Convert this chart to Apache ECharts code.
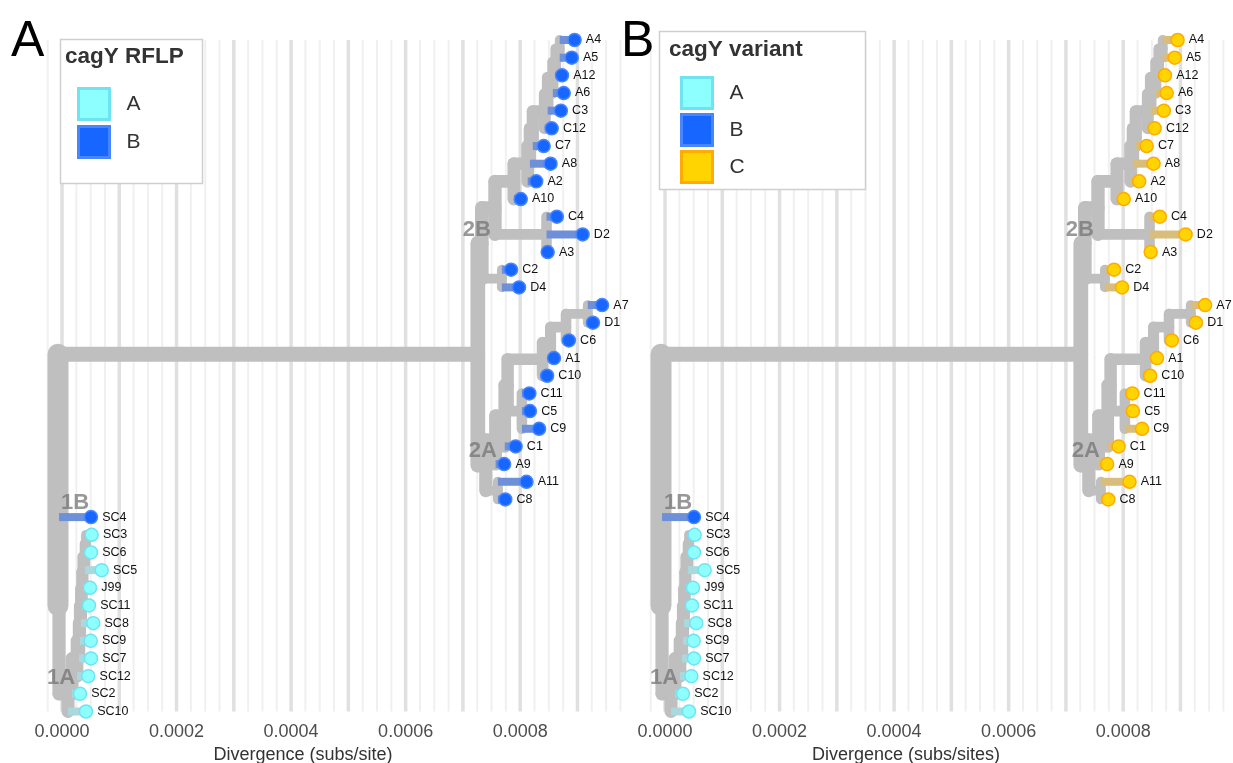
<!DOCTYPE html>
<html><head><meta charset="utf-8">
<script src="https://cdn.jsdelivr.net/npm/echarts@6/dist/echarts.min.js"></script>
<style>html,body{margin:0;padding:0;background:#fff}#c{width:1233px;height:763px}</style>
</head><body><div id="c"></div>
<script>
// ---------------- DATA ----------------
const tipNames = ['A4','A5','A12','A6','C3','C12','C7','A8','A2','A10','C4','D2','A3','C2','D4',
  'A7','D1','C6','A1','C10','C11','C5','C9','C1','A9','A11','C8',
  'SC4','SC3','SC6','SC5','J99','SC11','SC8','SC9','SC7','SC12','SC2','SC10'];
const tipDivergence = [0.000895,0.000890,0.000873,0.000876,0.000871,0.000855,0.000841,0.000853,0.000828,0.000801,0.000864,0.000909,0.000848,0.000784,0.000798,
  0.000943,0.000927,0.000885,0.000859,0.000847,0.000816,0.000817,0.000833,0.000792,0.000772,0.000811,0.000774,
  0.0000506,0.0000518,0.0000506,0.0000693,0.0000489,0.0000471,0.0000546,0.0000501,0.0000506,0.0000459,0.0000314,0.0000419];
const tipParent = ['L1','L1','L2','L3','L4','L5','L6','L7','L8','L9','CDA','CDA','CDA','CD24','CD24',
  'P1','P1','P2','P3','P4','P5','P5','P5','P7','P8','P9','P9',
  'C1n','Q1','Q1','Q2','Q3','Q4','Q5','Q6','Q7','Q8','Q9','Q10'];
const tipRFLP = ['B','B','B','B','B','B','B','B','B','B','B','B','B','B','B',
  'B','B','B','B','B','B','B','B','B','B','B','B',
  'B','A','A','A','A','A','A','A','A','A','A','A'];
const tipVariant = ['C','C','C','C','C','C','C','C','C','C','C','C','C','C','C',
  'C','C','C','C','C','C','C','C','C','C','C','C',
  'B','A','A','A','A','A','A','A','A','A','A','A'];
const nodeNames = ['root','N2','B1','B2','L9','L8','L7','L6','L5','L4','L3','L2','L1','CDA','CD24',
  'A0','P8','P7','P6','P4','P3','P2','P1','P5','P9',
  'C1n','Q10','Q9','Q8','Q7','Q6','Q5','Q4','Q3','Q2','Q1'];
const nodeParent = [null,'root','N2','B1','B2','L9','L8','L7','L6','L5','L4','L3','L2','B2','B1',
  'N2','A0','P8','P7','P6','P4','P3','P2','P6','A0',
  'root','C1n','Q10','Q9','Q8','Q7','Q6','Q5','Q4','Q3','Q2'];
const nodeDivergence = [-0.0000070,0.000726,0.000733,0.000756,0.000789,0.000813,0.000817,0.000822,0.000843,0.000848,0.000857,0.000862,0.000869,0.000846,0.000768,
  0.000740,0.000757,0.000773,0.000778,0.000839,0.000853,0.000880,0.000918,0.000803,0.000761,
  -0.0000052,0.0000105,0.0000175,0.0000262,0.0000297,0.0000314,0.0000332,0.0000349,0.0000366,0.0000401,0.0000419];
const cladeLabels = ['2B','2A','1B','1A'];
const cladeAnchors = ['B1','A0','SC4','Q10'];
const tickValues = [0, 0.0002, 0.0004, 0.0006, 0.0008];
const legendRFLP = ['A','B'];
const legendVariant = ['A','B','C'];

// ---------------- STYLE ----------------
const FONT = 'Liberation Sans, Arial, sans-serif';
const XMIN = -0.0000297, XMAX = 0.000983;
const COLORS = {
  A: {fill:'#8effff', border:'#70e3f3', branch:'#a9d9dc'},
  B: {fill:'#1766ff', border:'#4786ff', branch:'#6e90d8'},
  C: {fill:'#ffd400', border:'#ffab00', branch:'#d8be7a'}
};
const GRAY = '#bfbfbf';
const ROOT_WIDTH = 21;
const cladeOffsets = {'2B':[-5,-13], '2A':[-3,-14], '1B':[-16,-14], '1A':[-7,-16]};

// ---------------- TREE LAYOUT ----------------
const children = {}; nodeNames.forEach(n => children[n] = []);
nodeNames.forEach((n,i) => { if (nodeParent[i]) children[nodeParent[i]].push({node:n}); });
tipNames.forEach((t,i) => children[tipParent[i]].push({tip:i}));
const nodeX = {}; nodeNames.forEach((n,i) => nodeX[n] = nodeDivergence[i]);
const nodeY = {}, nodeN = {};
function layout(n){
  const ys = []; let cnt = 0;
  children[n].forEach(c => {
    if (c.tip !== undefined) { ys.push(c.tip); cnt++; }
    else { layout(c.node); ys.push(nodeY[c.node]); cnt += nodeN[c.node]; }
  });
  nodeY[n] = ys.reduce((a,b)=>a+b,0)/ys.length; nodeN[n] = cnt;
}
layout('root');
const widthOf = n => n === 'root' ? ROOT_WIDTH : 8.5 + 1.9*Math.log(nodeN[n]);

const grayEdges = [];
nodeNames.forEach(n => {
  const ys = children[n].map(c => c.tip !== undefined ? c.tip : nodeY[c.node]);
  grayEdges.push([nodeX[n], Math.min(...ys), nodeX[n], Math.max(...ys), widthOf(n)]);
  children[n].forEach(c => { if (c.node) grayEdges.push([nodeX[n], nodeY[c.node], nodeX[c.node], nodeY[c.node], widthOf(c.node)]); });
});

const gridValues = [];
for (let k = Math.ceil(XMIN/0.000025); k*0.000025 <= XMAX; k++) gridValues.push(k*0.000025);

// ---------------- OPTION ----------------
const PANEL_LEFT = [45, 648];
const grids = PANEL_LEFT.map(l => ({left:l, top:40, width:580, height:671.5, outerBoundsMode:'none', containLabel:false}));
const xAxes = PANEL_LEFT.map((l,gi) => ({
  type:'value', gridIndex:gi, min:XMIN, max:XMAX,
  axisLine:{show:false}, axisTick:{show:false}, splitLine:{show:false},
  axisLabel:{customValues:tickValues, formatter:v=>v.toFixed(4), fontSize:18, color:'#4d4d4d', margin:12, fontFamily:FONT},
  name: gi===0 ? 'Divergence (subs/site)' : 'Divergence (subs/sites)',
  nameLocation:'middle', nameGap:34,
  nameTextStyle:{fontSize:18, color:'#333', fontFamily:FONT, padding:[0,64,0,0]}
}));
const yAxes = PANEL_LEFT.map((l,gi) => ({type:'value', gridIndex:gi, inverse:true, min:0, max:38, show:false}));

const series = [];
function addPanel(gi, types){
  series.push({
    type:'custom', xAxisIndex:gi, yAxisIndex:gi, silent:true, z:1, data:gridValues,
    renderItem:(params, api) => {
      const v = api.value(0); const cs = params.coordSys;
      const p = api.coord([v, 0]);
      const thick = Math.abs(v/0.0001 - Math.round(v/0.0001)) < 1e-6;
      return {type:'line', shape:{x1:p[0], y1:cs.y, x2:p[0], y2:cs.y+cs.height},
        style:{stroke: thick ? '#e0e0e0' : '#f0f0f0', lineWidth: thick ? 3.5 : 2}};
    }
  });
  series.push({
    type:'custom', xAxisIndex:gi, yAxisIndex:gi, silent:true, z:2, data:grayEdges,
    renderItem:(params, api) => {
      const a = api.coord([api.value(0), api.value(1)]), b = api.coord([api.value(2), api.value(3)]);
      return {type:'line', shape:{x1:a[0], y1:a[1], x2:b[0], y2:b[1]},
        style:{stroke:GRAY, lineWidth:api.value(4), lineCap:'round'}};
    }
  });
  series.push({
    type:'custom', xAxisIndex:gi, yAxisIndex:gi, silent:true, z:3,
    data: tipNames.map((t,i) => [nodeX[tipParent[i]], i, tipDivergence[i], i, ['A','B','C'].indexOf(types[i])]),
    renderItem:(params, api) => {
      const a = api.coord([api.value(0), api.value(1)]), b = api.coord([api.value(2), api.value(3)]);
      const col = COLORS[['A','B','C'][api.value(4)]].branch;
      return {type:'line', shape:{x1:a[0], y1:a[1], x2:b[0], y2:b[1]},
        style:{stroke:col, lineWidth:8, lineCap:'butt'}};
    }
  });
  ['A','B','C'].forEach(ty => {
    const d = [];
    tipNames.forEach((t,i) => { if (types[i]===ty) d.push([tipDivergence[i], i, t]); });
    if (!d.length) return;
    series.push({
      type:'scatter', name:ty, xAxisIndex:gi, yAxisIndex:gi, z:5, clip:false,
      symbolSize:13, data:d,
      itemStyle:{color:COLORS[ty].fill, borderColor:COLORS[ty].border, borderWidth:1.5, opacity:1},
      label:{show:true, position:'right', distance:4, formatter:p=>p.data[2], fontSize:12.5, color:'#111', fontFamily:FONT},
      emphasis:{disabled:true}
    });
  });
  series.push({
    type:'scatter', xAxisIndex:gi, yAxisIndex:gi, z:6, clip:false, silent:true, symbolSize:0,
    data: cladeLabels.map((c,k) => {
      const a = cladeAnchors[k];
      const ti = tipNames.indexOf(a);
      const pt = ti >= 0 ? [tipDivergence[ti], ti] : [nodeX[a], nodeY[a]];
      return {value:[pt[0], pt[1], c], label:{offset:cladeOffsets[c]}};
    }),
    label:{show:true, position:'inside', formatter:p=>p.data.value[2], fontSize:22, fontWeight:'bold', color:'rgba(115,115,115,0.92)', fontFamily:FONT}
  });
}
addPanel(0, tipRFLP);
addPanel(1, tipVariant);

const option = {
  animation:false,
  textStyle:{fontFamily:FONT},
  grid:grids, xAxis:xAxes, yAxis:yAxes, series:series,
  title:[
    {text:'A', left:11, top:17, padding:0, textStyle:{fontSize:50, fontWeight:'normal', color:'#000', fontFamily:FONT}},
    {text:'B', left:621, top:17, padding:0, textStyle:{fontSize:50, fontWeight:'normal', color:'#000', fontFamily:FONT}},
    {text:'cagY RFLP', left:65, top:45, padding:0, z:60, textStyle:{fontSize:22.5, fontWeight:'bold', color:'#333', fontFamily:FONT}},
    {text:'cagY variant', left:669, top:38, padding:0, z:60, textStyle:{fontSize:22.5, fontWeight:'bold', color:'#333', fontFamily:FONT}}
  ],
  legend:[
    {data:legendRFLP, orient:'vertical', left:77, top:87, padding:0, icon:'rect', itemWidth:31, itemHeight:31, itemGap:4,
     itemStyle:{borderWidth:3}, selectedMode:false, z:60,
     textStyle:{fontSize:21, color:'#333', fontFamily:FONT, padding:[0,0,0,12]}},
    {data:legendVariant, orient:'vertical', left:680, top:76, padding:0, icon:'rect', itemWidth:31, itemHeight:31, itemGap:3,
     itemStyle:{borderWidth:3}, selectedMode:false, z:60,
     textStyle:{fontSize:21, color:'#333', fontFamily:FONT, padding:[0,0,0,12]}}
  ],
  graphic:[
    {type:'rect', z:50, shape:{x:60.5, y:39.5, width:142, height:144}, style:{fill:'#fff', stroke:'#cfcfcf', lineWidth:1.5}},
    {type:'rect', z:50, shape:{x:659.5, y:31.5, width:206, height:158}, style:{fill:'#fff', stroke:'#cfcfcf', lineWidth:1.5}}
  ]
};
const chart = echarts.init(document.getElementById('c'), null, {renderer:'canvas'});
chart.setOption(option);
</script></body></html>
